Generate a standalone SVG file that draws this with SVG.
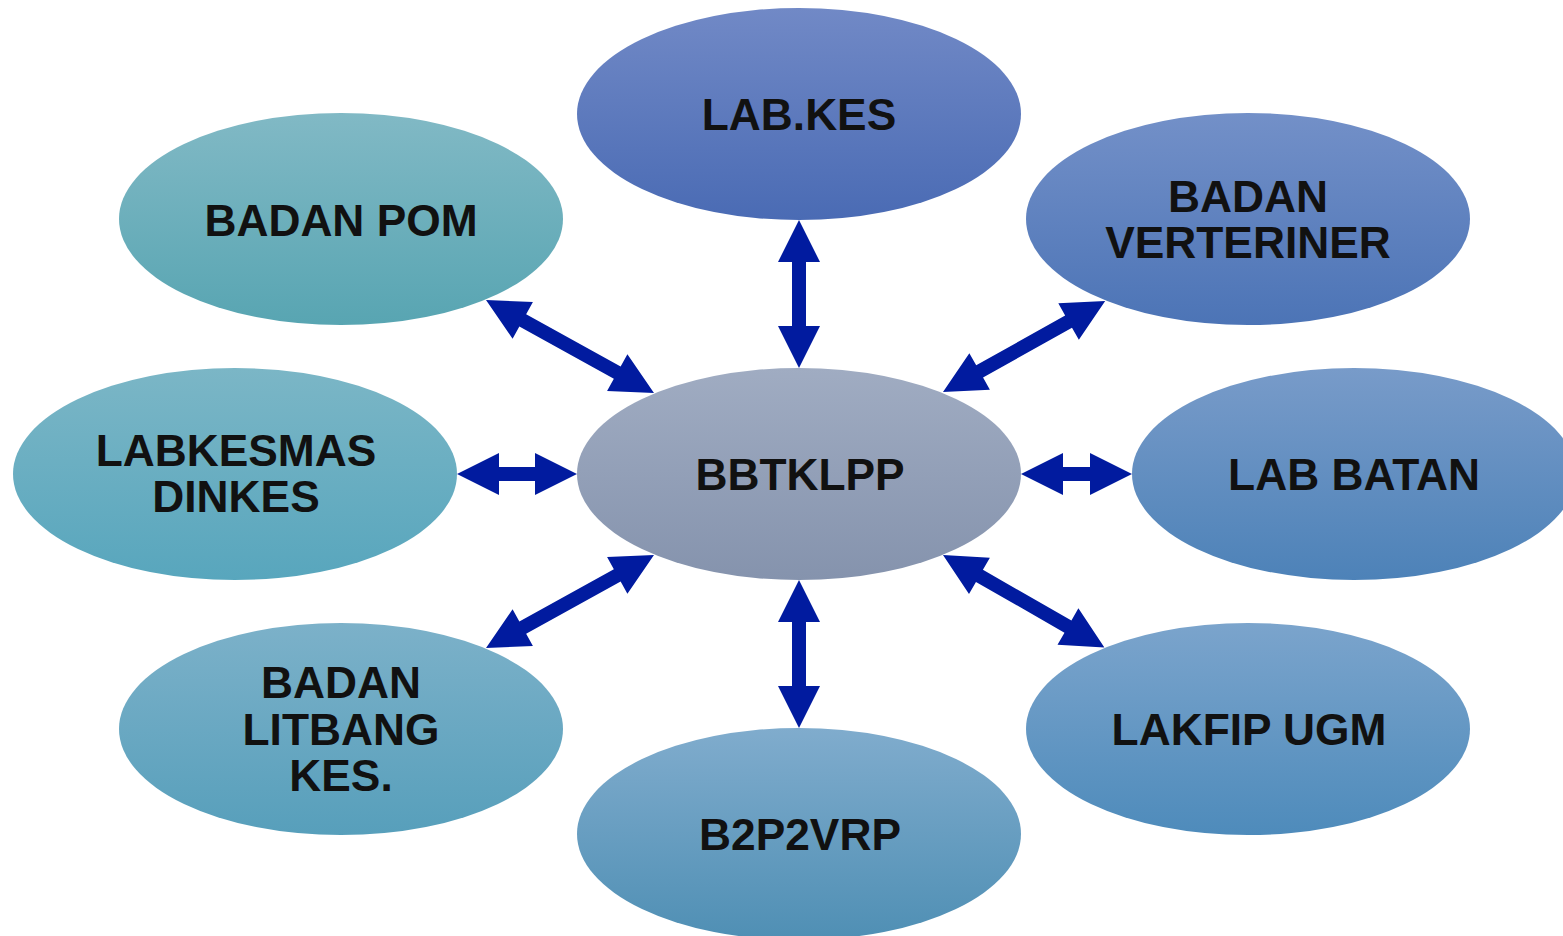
<svg xmlns="http://www.w3.org/2000/svg" width="1563" height="936" viewBox="0 0 1563 936">
<style>
text{font-family:"Liberation Sans",Arial,sans-serif;font-weight:bold;font-size:44.3px;fill:#111;text-anchor:middle}
.arr{fill:#011b9f}
</style>
<defs>
<linearGradient id="gC" x1="0" y1="0" x2="0" y2="1"><stop offset="0" stop-color="#a0acc2"/><stop offset="1" stop-color="#8593ad"/></linearGradient>
<linearGradient id="gK" x1="0" y1="0" x2="0" y2="1"><stop offset="0" stop-color="#7189c6"/><stop offset="1" stop-color="#4a6bb4"/></linearGradient>
<linearGradient id="gV" x1="0" y1="0" x2="0" y2="1"><stop offset="0" stop-color="#7390c8"/><stop offset="1" stop-color="#4c74b6"/></linearGradient>
<linearGradient id="gP" x1="0" y1="0" x2="0" y2="1"><stop offset="0" stop-color="#81b9c5"/><stop offset="1" stop-color="#58a5b2"/></linearGradient>
<linearGradient id="gL" x1="0" y1="0" x2="0" y2="1"><stop offset="0" stop-color="#7bb6c6"/><stop offset="1" stop-color="#58a6bd"/></linearGradient>
<linearGradient id="gB" x1="0" y1="0" x2="0" y2="1"><stop offset="0" stop-color="#789bc9"/><stop offset="1" stop-color="#4d82b8"/></linearGradient>
<linearGradient id="gT" x1="0" y1="0" x2="0" y2="1"><stop offset="0" stop-color="#7cb1c9"/><stop offset="1" stop-color="#579fbb"/></linearGradient>
<linearGradient id="gU" x1="0" y1="0" x2="0" y2="1"><stop offset="0" stop-color="#7ba4cc"/><stop offset="1" stop-color="#4e8bbb"/></linearGradient>
<linearGradient id="gR" x1="0" y1="0" x2="0" y2="1"><stop offset="0" stop-color="#80accd"/><stop offset="1" stop-color="#4f8fb4"/></linearGradient>
</defs>
<g id="node-labkes"><ellipse cx="799" cy="114" rx="222" ry="106" fill="url(#gK)"/><text x="799" y="130">LAB.KES</text></g>
<g id="node-badanpom"><ellipse cx="341" cy="219" rx="222" ry="106" fill="url(#gP)"/><text x="341" y="236">BADAN POM</text></g>
<g id="node-verteriner"><ellipse cx="1248" cy="219" rx="222" ry="106" fill="url(#gV)"/><text x="1248" y="212">BADAN</text><text x="1248" y="258">VERTERINER</text></g>
<g id="node-labkesmas"><ellipse cx="235" cy="474" rx="222" ry="106" fill="url(#gL)"/><text x="236" y="466">LABKESMAS</text><text x="236" y="512">DINKES</text></g>
<g id="node-bbtklpp"><ellipse cx="799" cy="474" rx="222" ry="106" fill="url(#gC)"/><text x="800" y="490">BBTKLPP</text></g>
<g id="node-labbatan"><ellipse cx="1354" cy="474" rx="222" ry="106" fill="url(#gB)"/><text x="1354" y="490">LAB BATAN</text></g>
<g id="node-litbang"><ellipse cx="341" cy="729" rx="222" ry="106" fill="url(#gT)"/><text x="341" y="698">BADAN</text><text x="341" y="745">LITBANG</text><text x="341" y="791">KES.</text></g>
<g id="node-lakfip"><ellipse cx="1248" cy="729" rx="222" ry="106" fill="url(#gU)"/><text x="1249" y="745">LAKFIP UGM</text></g>
<g id="node-b2p2vrp"><ellipse cx="799" cy="834" rx="222" ry="106" fill="url(#gR)"/><text x="800" y="850">B2P2VRP</text></g>
<g id="connectors" class="arr">
<path transform="translate(799,220) rotate(90)" d="M0 0L42 -21L42 -7L106 -7L106 -21L148 0L106 21L106 7L42 7L42 21Z"/>
<path transform="translate(799,580) rotate(90)" d="M0 0L42 -21L42 -7L106 -7L106 -21L148 0L106 21L106 7L42 7L42 21Z"/>
<path transform="translate(457,474)" d="M0 0L42 -21L42 -7L78 -7L78 -21L120 0L78 21L78 7L42 7L42 21Z"/>
<path transform="translate(1021,474)" d="M0 0L42 -21L42 -7L69 -7L69 -21L111 0L69 21L69 7L42 7L42 21Z"/>
<path transform="translate(486,300) rotate(28.96)" d="M0 0L42 -21L42 -7L150 -7L150 -21L192 0L150 21L150 7L42 7L42 21Z"/>
<path transform="translate(943,392) rotate(-29.3)" d="M0 0L42 -21L42 -7L144 -7L144 -21L186 0L144 21L144 7L42 7L42 21Z"/>
<path transform="translate(486,648) rotate(-28.96)" d="M0 0L42 -21L42 -7L150 -7L150 -21L192 0L150 21L150 7L42 7L42 21Z"/>
<path transform="translate(943,555) rotate(29.8)" d="M0 0L42 -21L42 -7L144 -7L144 -21L186 0L144 21L144 7L42 7L42 21Z"/>
</g>
</svg>
